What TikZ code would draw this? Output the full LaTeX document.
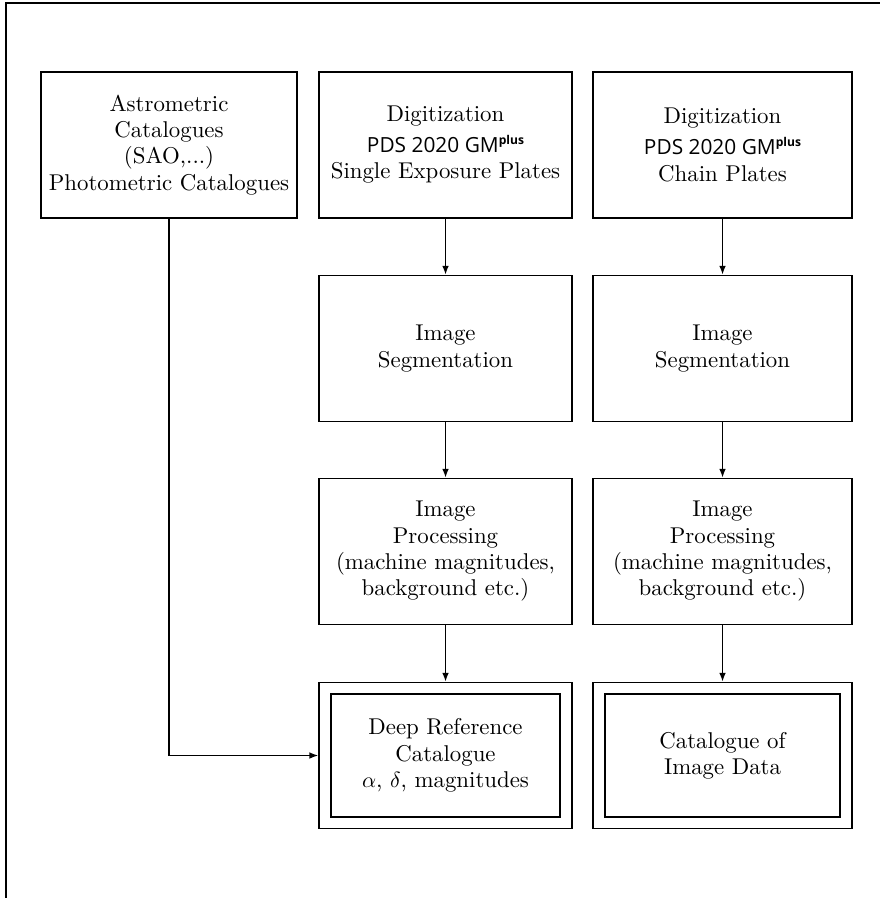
\documentclass[tikz,border=0pt]{standalone}
\usepackage{fontspec}
\usepackage{amsmath,amssymb}
\newfontfamily\pdsfont{Open Sans}
\usetikzlibrary{arrows.meta}

\newcommand{\pdsline}{{\pdsfont\fontsize{9.5}{12}\selectfont PDS 2020 GM\raisebox{0.75ex}{\fontsize{5.5}{6}\selectfont\bfseries plus}}}

\begin{document}
\begin{tikzpicture}[x=0.016cm,y=-0.016cm,
    box/.style={draw,line width=0.65pt,align=center,inner sep=0pt,
      minimum height=2.34cm,font=\fontsize{10.4}{12}\selectfont},
    inbox/.style={box,minimum height=1.97cm},
    flow/.style={line width=0.65pt,-{Latex[length=4pt,width=3pt]}}]
  \useasboundingbox (0,0) rectangle (880,898);
  % frame
  \draw[line width=0.8pt] (6,898) -- (6,3) -- (880,3);
  % top row
  \node[box,minimum width=4.1cm] (astro) at (169,145)
    {Astrometric\\Catalogues\\(SAO,...)\\Photometric Catalogues};
  \node[box,minimum width=4.05cm] (digsingle) at (445.5,145)
    {Digitization\\[2pt]\pdsline\\Single Exposure Plates};
  \node[box,minimum width=4.14cm] (digchain) at (722.5,145)
    {Digitization\\[2pt]\pdsline\\Chain Plates};
  % segmentation
  \node[box,minimum width=4.05cm] (segsingle) at (445.5,348.5)
    {Image\\Segmentation};
  \node[box,minimum width=4.14cm] (segchain) at (722.5,348.5)
    {Image\\Segmentation};
  % processing
  \node[box,minimum width=4.05cm] (procsingle) at (445.5,551.5)
    {Image\\Processing\\(machine magnitudes,\\background etc.)};
  \node[box,minimum width=4.14cm] (procchain) at (722.5,551.5)
    {Image\\Processing\\(machine magnitudes,\\background etc.)};
  % catalogues
  \node[box,minimum width=4.05cm] (refcat) at (445.5,755.5) {};
  \node[inbox,minimum width=3.66cm] (refcatin) at (refcat)
    {Deep Reference\\Catalogue\\$\alpha$, $\delta$, magnitudes};
  \node[box,minimum width=4.14cm] (imgcat) at (722.5,755.5) {};
  \node[inbox,minimum width=3.76cm] (imgcatin) at (imgcat)
    {Catalogue of\\Image Data};
  % arrows
  \draw[flow] (digsingle) -- (segsingle);
  \draw[flow] (segsingle) -- (procsingle);
  \draw[flow] (procsingle) -- (refcat);
  \draw[flow] (digchain) -- (segchain);
  \draw[flow] (segchain) -- (procchain);
  \draw[flow] (procchain) -- (imgcat);
  \draw[flow] (astro.south) |- (refcat.west);
\end{tikzpicture}
\end{document}
